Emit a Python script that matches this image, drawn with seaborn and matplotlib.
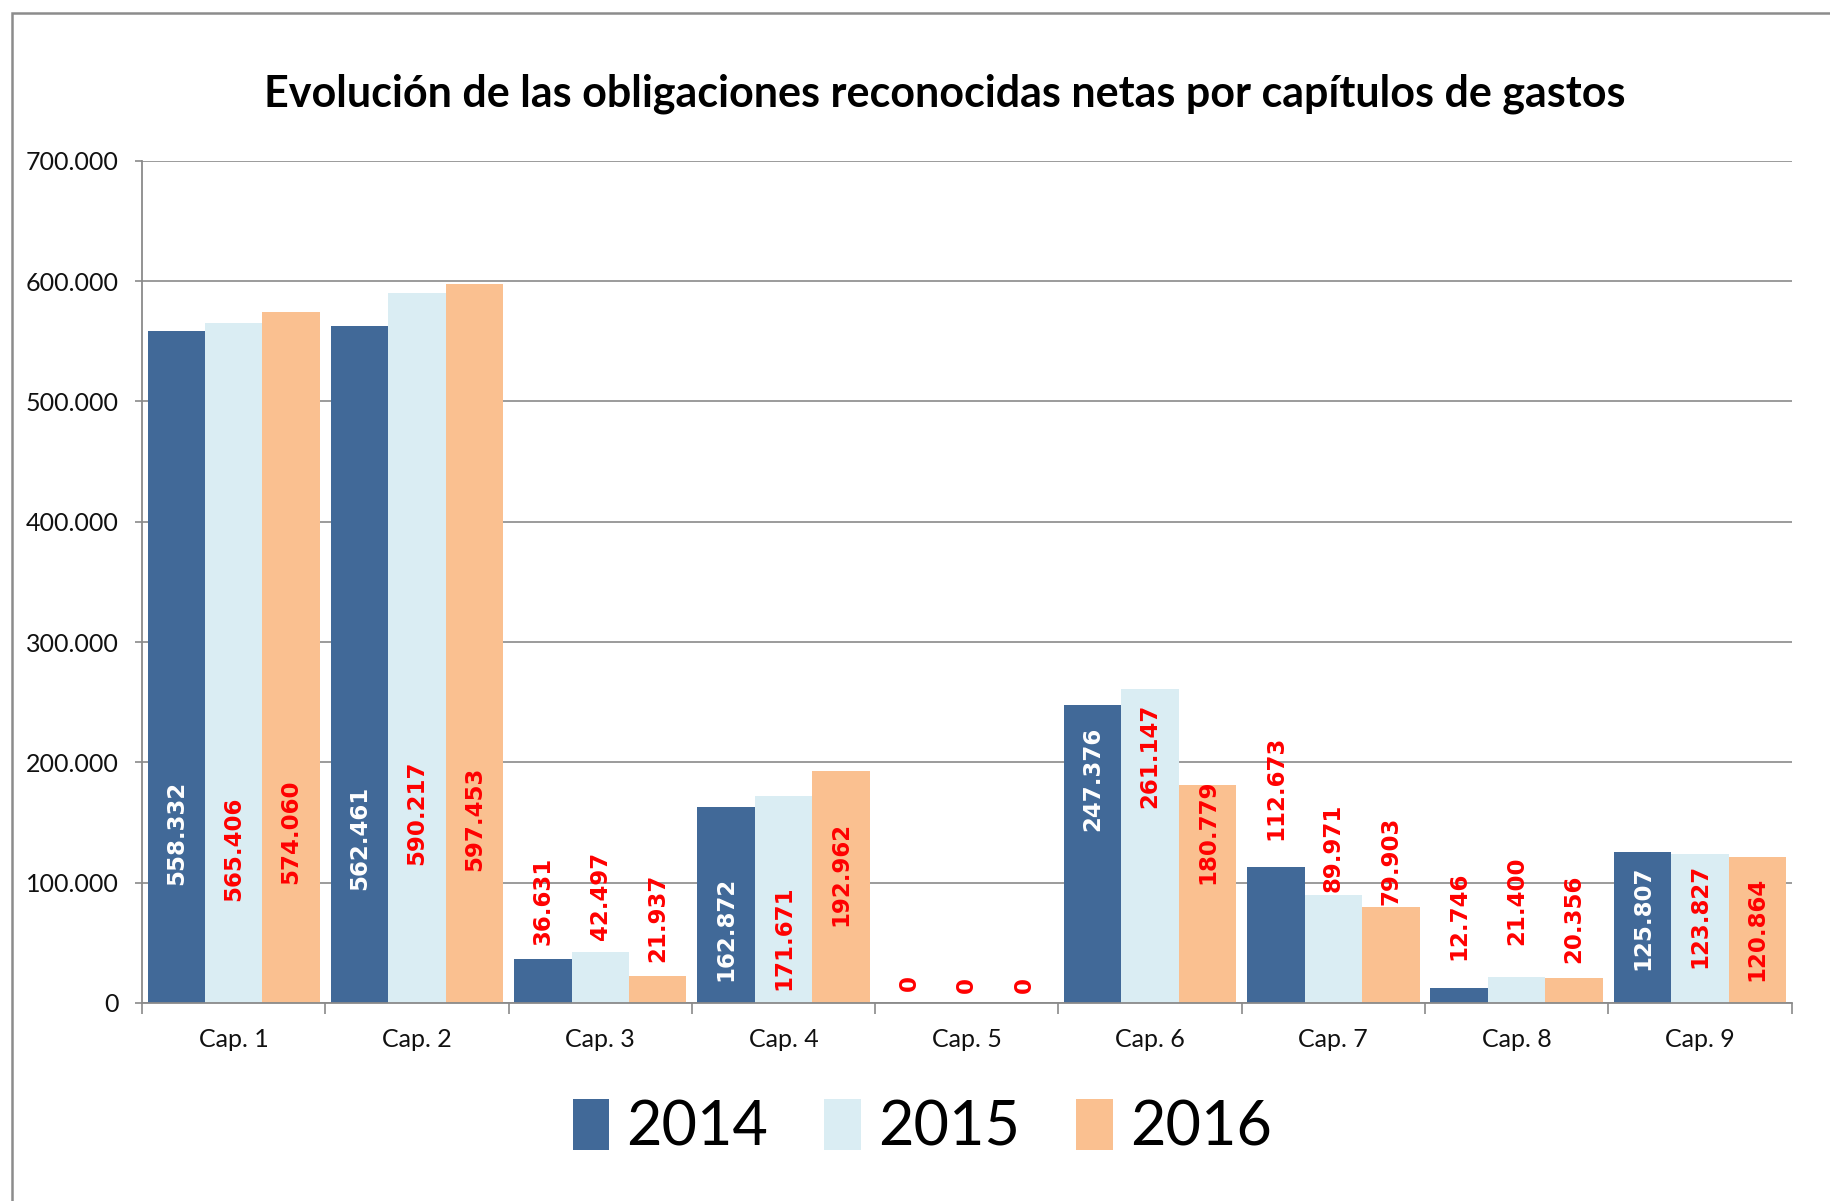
import matplotlib
matplotlib.use("Agg")
import matplotlib.pyplot as plt
import matplotlib.patches as mpatches
from matplotlib.ticker import FuncFormatter, FixedLocator, MultipleLocator
import seaborn as sns
import pandas as pd

categories = ["Cap. 1", "Cap. 2", "Cap. 3", "Cap. 4", "Cap. 5",
              "Cap. 6", "Cap. 7", "Cap. 8", "Cap. 9"]
years = ["2014", "2015", "2016"]
v2014 = [558332, 562461, 36631, 162872, 0, 247376, 112673, 12746, 125807]
v2015 = [565406, 590217, 42497, 171671, 0, 261147, 89971, 21400, 123827]
v2016 = [574060, 597453, 21937, 192962, 0, 180779, 79903, 20356, 120864]
colors = ["#416998", "#DAEDF3", "#FAC090"]

# label anchor heights (bottom of rotated text), in thousands
lab2014 = [98, 94, 48, 18, 10, 143, 135, 36, 27]
lab2015 = [85, 115, 52, 11, 8, 162, 92, 48, 29]
lab2016 = [99, 110, 34, 64, 8, 99, 81, 33, 18]

df = pd.DataFrame({
    "cap": categories * 3,
    "year": [y for y in years for _ in categories],
    "value": v2014 + v2015 + v2016,
})

sns.set_theme(style="white")
plt.rcParams["font.family"] = ["Lato", "DejaVu Sans"]
plt.rcParams["text.color"] = "black"

fig = plt.figure(figsize=(18.3, 12.01), dpi=100)
ax = fig.add_axes([0.0776, 0.165, 0.979 - 0.0776, 0.866 - 0.165])

sns.barplot(data=df, x="cap", y="value", hue="year", palette=colors,
            width=0.94, gap=0, saturation=1, ax=ax, legend=False,
            edgecolor="none", linewidth=0)

ax.set_ylim(0, 700000)
ax.set_xlim(-0.5, len(categories) - 0.5)
ax.yaxis.set_major_locator(MultipleLocator(100000))
ax.yaxis.set_major_formatter(FuncFormatter(lambda v, p: f"{int(v):,}".replace(",", ".")))
ax.grid(axis="y", color="#8a8a8a", linewidth=1.2)
ax.set_axisbelow(True)
for s in ["top", "right"]:
    ax.spines[s].set_visible(False)
for s in ["left", "bottom"]:
    ax.spines[s].set_color("#8a8a8a")
    ax.spines[s].set_linewidth(1.3)

ax.set_xlabel("")
ax.set_ylabel("")
ax.tick_params(axis="y", labelsize=18, length=5, width=1.2, color="#8a8a8a",
               pad=12, left=True, labelcolor="#111111")
ax.tick_params(axis="x", which="major", labelsize=18, length=0, pad=18,
               labelcolor="#111111")
ax.xaxis.set_minor_locator(FixedLocator([i - 0.5 for i in range(len(categories) + 1)]))
ax.tick_params(axis="x", which="minor", length=8, width=1.2, color="#8a8a8a",
               bottom=True)

labs = [lab2014, lab2015, lab2016]
vals = [v2014, v2015, v2016]
for k, cont in enumerate(ax.containers):
    for i, bar in enumerate(cont):
        xc = bar.get_x() + bar.get_width() / 2
        yb = labs[k][i] * 1000
        inside = (k == 0 and yb < vals[k][i])
        txt = f"{vals[k][i]:,}".replace(",", ".")
        ax.text(xc, yb, txt, rotation=90, ha="center", va="bottom",
                fontsize=16.5, fontweight="bold", family="DejaVu Sans",
                color="white" if inside else "#FF0000")

fig.suptitle("Evolución de las obligaciones reconocidas netas por capítulos de gastos",
             x=0.5165, y=0.922, va="center", fontsize=31, fontweight="bold",
             color="black")

handles = [mpatches.Patch(facecolor=c, edgecolor="none") for c in colors]
fig.legend(handles, years, loc="center", bbox_to_anchor=(0.504, 0.061),
           ncol=3, frameon=False, fontsize=44, handlelength=0.6,
           handleheight=0.9, handletextpad=0.28, columnspacing=0.92,
           labelcolor="black")

fig.add_artist(mpatches.Rectangle((0.0063, -0.1), 1.2, 1.1 - 0.0105,
                                  transform=fig.transFigure, fill=False,
                                  edgecolor="#8c8c8c", linewidth=1.8))

fig.savefig("out.png", dpi=100, facecolor="white")
